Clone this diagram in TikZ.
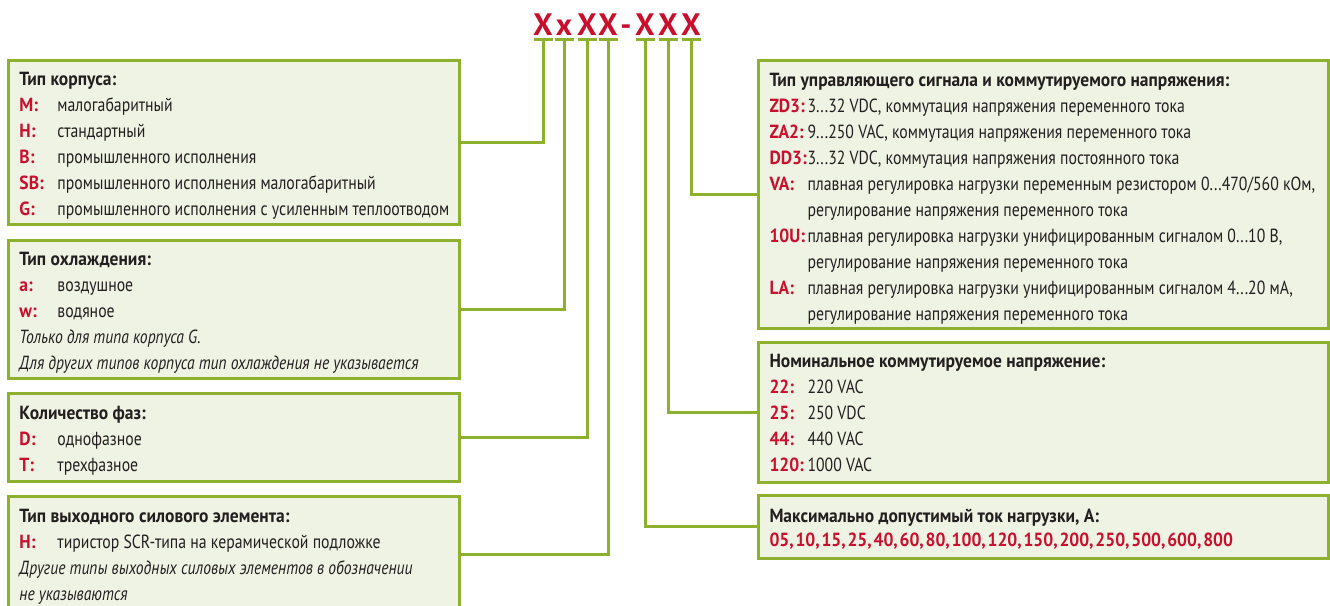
\documentclass[tikz,border=0pt]{standalone}
\usepackage{fontspec}
\usepackage{array}
\setmainfont{PT Sans}[FakeStretch=0.83, BoldFeatures={FakeStretch=0.92}, ItalicFeatures={FakeStretch=0.82}]
\newfontfamily\codefont{PT Sans}
\definecolor{rama}{RGB}{141,176,46}
\definecolor{fon}{RGB}{239,243,228}
\definecolor{kras}{RGB}{200,16,46}
\definecolor{tekst}{RGB}{35,31,32}
\newcommand\kod[1]{\textcolor{kras}{\bfseries #1}}
\newcommand\zag[1]{\multicolumn{2}{@{}l@{}}{\bfseries #1}}
\newcommand\prim[1]{\multicolumn{2}{@{}l@{}}{\itshape #1}}

\begin{document}
\begin{tikzpicture}[x=1pt, y=-1pt, line width=3pt,
  box/.style={draw=rama, fill=fon, anchor=north west, inner sep=0pt, outer sep=0pt},
  wire/.style={draw=rama, line width=3pt},
  txt/.style={anchor=base west, inner sep=0pt, text=tekst, font=\fontsize{19}{26}\selectfont},
  code/.style={anchor=base, inner sep=0pt, text=kras, font=\codefont\fontsize{31}{31}\selectfont\bfseries}]
  \useasboundingbox (0,0) rectangle (1330,605);
  \clip (0,0) rectangle (1330,605);
  % code letters
  \node[code] (c1) at (543,35) {X};
  \node[code] (c2) at (564,35) {x};
  \node[code] (c3) at (587,35) {X};
  \node[code] (c4) at (608,35) {X};
  \node[code] (dash) at (626,35) {-};
  \node[code] (c5) at (645,35) {X};
  \node[code] (c6) at (668,35) {X};
  \node[code] (c7) at (691,35) {X};
  \foreach \c in {c1,c2,c3,c4,c5,c6,c7}
    \draw[wire] (\c.base) ++(-9.5,4.5) -- ++(19,0);
  % boxes
  \node[box, minimum width=451, minimum height=164] (korpus) at (8,60) {};
  \node[box, minimum width=451, minimum height=138] (ohl) at (8,240) {};
  \node[box, minimum width=451, minimum height=88] (faz) at (8,393) {};
  \node[box, minimum width=451, minimum height=116] (vyh) at (8,496) {};
  \node[box, minimum width=570, minimum height=268] (signal) at (758,60) {};
  \node[box, minimum width=570, minimum height=140] (napr) at (758,342) {};
  \node[box, minimum width=570, minimum height=63] (tok) at (758,495) {};
  % connectors
  \draw[wire] (c1.base) ++(0,4.5) |- (korpus.east);
  \draw[wire] (c2.base) ++(0,4.5) |- (ohl.east);
  \draw[wire] (c3.base) ++(0,4.5) |- (faz.east);
  \draw[wire] (c4.base) ++(0,4.5) |- (vyh.east);
  \draw[wire] (c5.base) ++(0,4.5) |- (tok.west);
  \draw[wire] (c6.base) ++(0,4.5) |- (napr.west);
  \draw[wire] (c7.base) ++(0,4.5) |- (signal.west);
  % texts
  \node[txt] (korpus-t) at (18,85) {\begin{tabular}[t]{@{}p{38pt}@{}l@{}}
    \zag{Тип корпуса:}\\
    \kod{M:} & малогабаритный\\
    \kod{H:} & стандартный\\
    \kod{B:} & промышленного исполнения\\
    \kod{SB:} & промышленного исполнения малогабаритный\\
    \kod{G:} & промышленного исполнения с усиленным теплоотводом
  \end{tabular}};
  \node[txt] (ohl-t) at (18,265) {\begin{tabular}[t]{@{}p{38pt}@{}l@{}}
    \zag{Тип охлаждения:}\\
    \kod{a:} & воздушное\\
    \kod{w:} & водяное\\
    \prim{Только для типа корпуса G.}\\
    \prim{Для других типов корпуса тип охлаждения не указывается}
  \end{tabular}};
  \node[txt] (faz-t) at (18,419) {\begin{tabular}[t]{@{}p{38pt}@{}l@{}}
    \zag{Количество фаз:}\\
    \kod{D:} & однофазное\\
    \kod{T:} & трехфазное
  \end{tabular}};
  \node[txt] (vyh-t) at (18,522) {\begin{tabular}[t]{@{}p{38pt}@{}l@{}}
    \zag{Тип выходного силового элемента:}\\
    \kod{H:} & тиристор SCR-типа на керамической подложке\\
    \prim{Другие типы выходных силовых элементов в обозначении}\\
    \prim{не указываются}
  \end{tabular}};
  \node[txt] (signal-t) at (768,86) {\begin{tabular}[t]{@{}p{38pt}@{}l@{}}
    \zag{Тип управляющего сигнала и коммутируемого напряжения:}\\
    \kod{ZD3:} & 3...32 VDC, коммутация напряжения переменного тока\\
    \kod{ZA2:} & 9...250 VAC, коммутация напряжения переменного тока\\
    \kod{DD3:} & 3...32 VDC, коммутация напряжения постоянного тока\\
    \kod{VA:} & плавная регулировка нагрузки переменным резистором 0...470/560 кОм,\\
     & регулирование напряжения переменного тока\\
    \kod{10U:} & плавная регулировка нагрузки унифицированным сигналом 0...10 В,\\
     & регулирование напряжения переменного тока\\
    \kod{LA:} & плавная регулировка нагрузки унифицированным сигналом 4...20 мА,\\
     & регулирование напряжения переменного тока
  \end{tabular}};
  \node[txt] (napr-t) at (768,367) {\begin{tabular}[t]{@{}p{38pt}@{}l@{}}
    \zag{Номинальное коммутируемое напряжение:}\\
    \kod{22:} & 220 VAC\\
    \kod{25:} & 250 VDC\\
    \kod{44:} & 440 VAC\\
    \kod{120:} & 1000 VAC
  \end{tabular}};
  \node[txt] (tok-t) at (768,522) {\begin{tabular}[t]{@{}l@{}}
    \bfseries Максимально допустимый ток нагрузки, А:\\[-2pt]
    \spaceskip=1.8pt\kod{05, 10, 15, 25, 40, 60, 80, 100, 120, 150, 200, 250, 500, 600, 800}
  \end{tabular}};
\end{tikzpicture}
\end{document}
